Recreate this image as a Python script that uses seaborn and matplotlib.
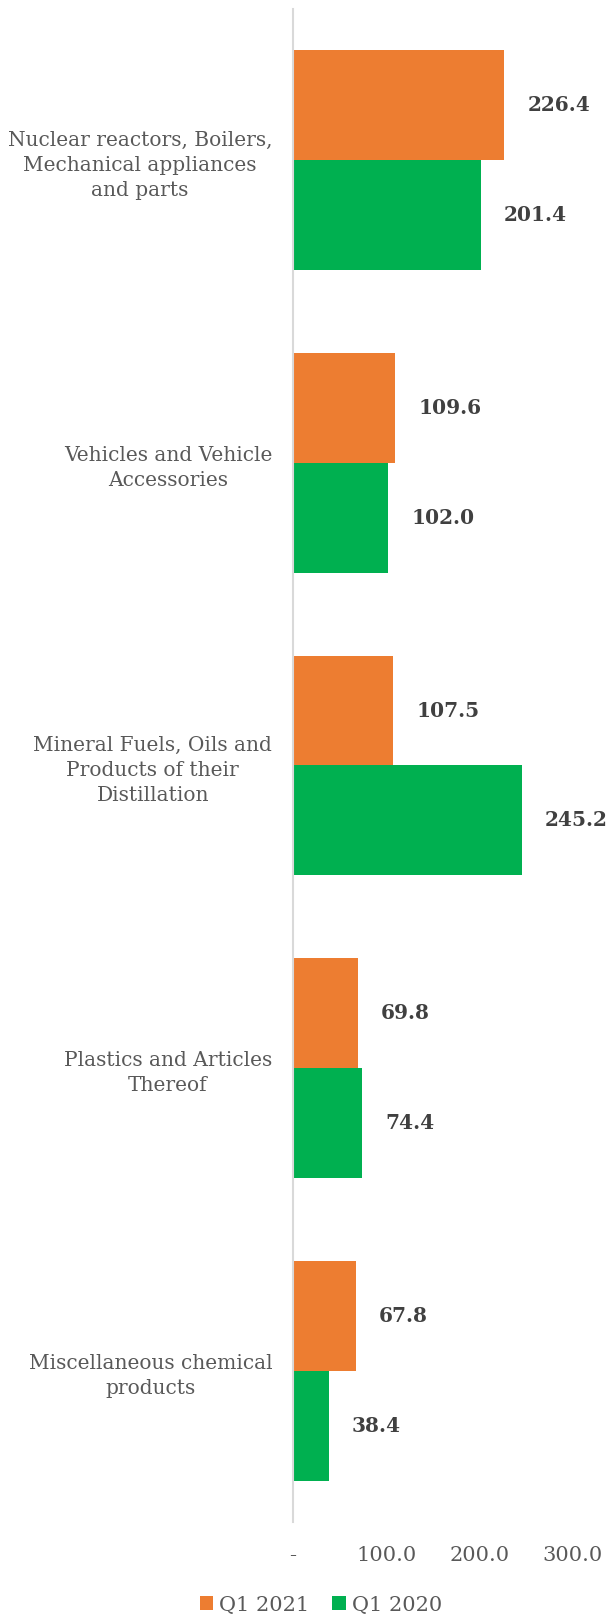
import matplotlib
matplotlib.use("Agg")
import matplotlib.pyplot as plt
import seaborn as sns
import pandas as pd
from matplotlib.patches import Patch

categories = [
    "Nuclear reactors, Boilers,\nMechanical appliances\nand parts",
    "Vehicles and Vehicle\nAccessories",
    "Mineral Fuels, Oils and\nProducts of their\nDistillation",
    "Plastics and Articles\nThereof",
    "Miscellaneous chemical\nproducts",
]
q1_2021 = [226.4, 109.6, 107.5, 69.8, 67.8]
q1_2020 = [201.4, 102.0, 245.2, 74.4, 38.4]
series_names = ["Q1 2021", "Q1 2020"]
x_ticks = [0, 100, 200, 300]
x_tick_labels = ["-", "100.0", "200.0", "300.0"]
colors = ["#ED7D31", "#00B050"]

df = pd.DataFrame({
    "Category": categories * 2,
    "Value": q1_2021 + q1_2020,
    "Series": [series_names[0]] * len(categories) + [series_names[1]] * len(categories),
})

sns.set_theme(style="white")
plt.rcParams["font.family"] = ["DejaVu Serif"]

fig = plt.figure(figsize=(6.15, 16.18), dpi=100)
ax = fig.add_axes([293 / 615, 96 / 1618, (573 - 293) / 615, (1522 - 9) / 1618])

sns.barplot(data=df, y="Category", x="Value", hue="Series", hue_order=series_names,
            order=categories, palette=colors, orient="h", width=0.726, dodge=True,
            saturation=1, legend=False, ax=ax, errorbar=None, linewidth=0)

for cont in ax.containers:
    ax.bar_label(cont, fmt="%.1f", padding=16.5, fontsize=14.5, fontweight="bold",
                 color="#404040")

ax.set_xlim(0, 300)
ax.set_xticks(x_ticks)
ax.set_xticklabels(x_tick_labels, fontsize=15, color="#595959")
ax.tick_params(axis="x", length=0, pad=17)
ax.tick_params(axis="y", length=0, pad=15)
for lbl in ax.get_yticklabels():
    lbl.set_fontsize(14.5)
    lbl.set_color("#595959")
    lbl.set_ha("right")
    lbl.set_multialignment("center")
    lbl.set_linespacing(1.4)
ax.set_xlabel("")
ax.set_ylabel("")
for side in ["top", "right", "bottom"]:
    ax.spines[side].set_visible(False)
ax.spines["left"].set_color("#D9D9D9")
ax.spines["left"].set_linewidth(1.5)
ax.grid(False)

handles = [Patch(facecolor=c, edgecolor="none") for c in colors]
fig.legend(handles, series_names, loc="center", bbox_to_anchor=(321 / 615, 1 - 1605 / 1618),
           ncol=2, frameon=False, fontsize=15, labelcolor="#595959",
           handlelength=0.65, handleheight=0.65, handletextpad=0.3, columnspacing=1.1)

fig.savefig("out.png", dpi=100, facecolor="white")
